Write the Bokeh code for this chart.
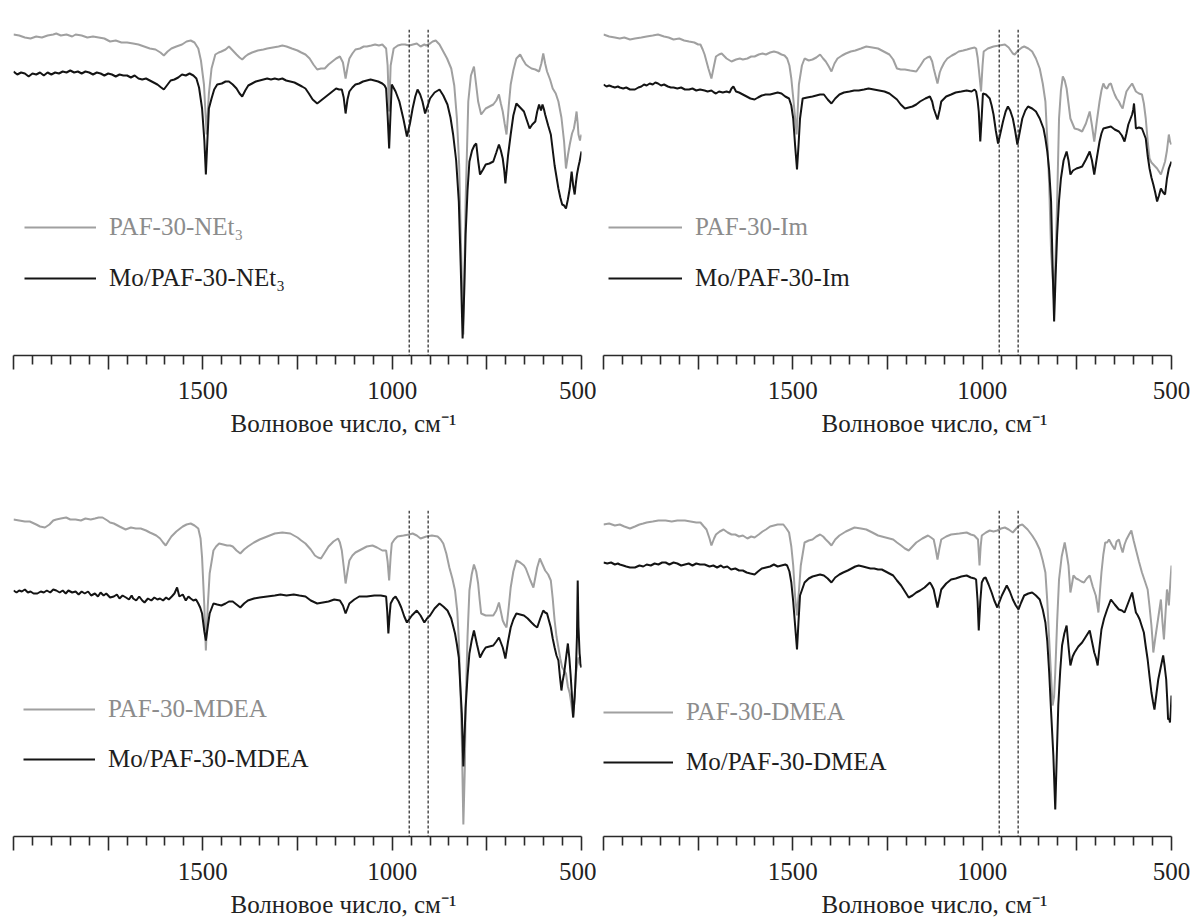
from bokeh.plotting import figure
from bokeh.models import Range1d, FixedTicker, Span, Legend, LegendItem, Title
from bokeh.layouts import gridplot
from bokeh.embed import file_html
from bokeh.resources import INLINE

FONT = "'Liberation Serif', 'Times New Roman', serif"
GRAY = "#a0a0a0"
BLACK = "#141414"

# ---- axis ticks ----
major_ticks = [500, 750, 1000, 1250, 1500, 1750, 2000]
minor_ticks = [550, 600, 650, 700, 800, 850, 900, 950, 1050, 1100, 1150, 1200,
               1300, 1350, 1400, 1450, 1550, 1600, 1650, 1700, 1800, 1850, 1900, 1950]
tick_labels = {500: "500", 750: "", 1000: "1000", 1250: "", 1500: "1500", 1750: "", 2000: ""}
marker_lines = [955, 905]
x_title = "Волновое число, см⁻¹"

# (wavenumber cm-1, transmittance a.u.) pairs
g1 = [(2000,321),(1985,320),(1970,318),(1955,317),(1940,319),(1925,318),(1910,320),(1895,321),(1887,322),(1875,320),(1860,321),(1845,319),(1836,321),(1820,320),(1805,318),(1790,319),(1775,318),(1760,317),(1745,314),(1730,315),(1715,313),(1700,313),(1684,312),(1670,311),(1655,309),(1640,307),(1625,306),(1612,303),(1603,300),(1593,304),(1583,307),(1570,309),(1555,311),(1543,314),(1532,315),(1522,313),(1512,307),(1505,295),(1497,271),(1490,221),(1484,262),(1477,287),(1467,301),(1458,303),(1451,304),(1440,306),(1431,309),(1421,305),(1411,301),(1403,298),(1396,296),(1388,299),(1381,301),(1370,303),(1355,305),(1340,306),(1330,307),(1315,308),(1300,309),(1290,310),(1279,309),(1265,307),(1250,305),(1240,303),(1229,301),(1218,297),(1208,291),(1198,286),(1188,287),(1178,287),(1168,291),(1158,294),(1148,297),(1138,299),(1130,293),(1123,277),(1117,290),(1113,297),(1105,302),(1097,306),(1085,307),(1075,309),(1067,309),(1055,310),(1045,311),(1035,310),(1026,311),(1016,307),(1012,290),(1008,244),(1004,290),(996,307),(985,310),(975,311),(966,311),(955,310),(945,311),(935,312),(925,309),(915,311),(910,310),(900,312),(893,314),(885,315),(875,311),(865,304),(855,297),(844,287),(836,270),(829,237),(823,190),(819,121),(812,21),(806,154),(799,254),(792,280),(784,289),(778,270),(773,254),(765,241),(759,244),(753,247),(743,249),(733,251),(725,255),(718,261),(713,252),(708,244),(703,232),(698,221),(692,250),(687,271),(680,285),(672,297),(662,301),(655,296),(647,291),(640,289),(632,287),(622,286),(612,284),(606,292),(601,302),(596,292),(591,284),(583,276),(576,267),(568,262),(561,254),(553,238),(546,214),(541,187),(536,200),(531,211),(525,222),(520,227),(516,236),(513,244),(510,232),(508,221),(504,215),(500,221)]
b1 = [(2000,284),(1990,281),(1980,283),(1970,282),(1960,279),(1950,282),(1940,281),(1930,283),(1920,280),(1910,283),(1900,281),(1890,283),(1880,282),(1870,284),(1860,283),(1850,285),(1840,283),(1830,284),(1820,282),(1810,284),(1800,283),(1790,281),(1780,283),(1770,282),(1760,280),(1750,282),(1740,281),(1730,279),(1720,281),(1710,280),(1700,280),(1690,278),(1680,280),(1670,277),(1660,276),(1650,277),(1640,275),(1630,273),(1620,271),(1610,268),(1603,266),(1595,270),(1585,275),(1575,276),(1565,278),(1555,281),(1545,280),(1535,282),(1525,280),(1517,277),(1510,268),(1502,247),(1496,215),(1492,181),(1488,215),(1484,247),(1477,257),(1470,266),(1462,271),(1450,272),(1440,274),(1431,274),(1421,271),(1411,267),(1403,262),(1396,259),(1388,265),(1380,270),(1370,272),(1360,274),(1350,275),(1340,276),(1330,277),(1320,276),(1310,277),(1300,276),(1290,277),(1280,275),(1269,274),(1258,273),(1248,271),(1238,269),(1229,267),(1220,262),(1210,256),(1198,252),(1188,255),(1178,258),(1168,261),(1158,264),(1148,267),(1140,266),(1133,266),(1128,258),(1123,242),(1118,256),(1113,264),(1105,268),(1097,271),(1087,272),(1077,274),(1067,275),(1057,276),(1047,275),(1037,274),(1026,272),(1020,270),(1016,267),(1012,240),(1008,207),(1004,245),(1001,271),(991,264),(981,254),(970,236),(961,219),(953,232),(946,247),(939,259),(933,266),(926,261),(920,254),(913,242),(906,250),(900,257),(888,263),(875,266),(865,260),(854,251),(846,238),(839,221),(831,195),(824,154),(819,90),(814,17),(810,60),(806,121),(801,165),(796,194),(789,205),(783,210),(778,212),(773,195),(768,181),(760,186),(753,191),(743,192),(733,194),(725,203),(718,211),(713,205),(708,197),(704,185),(701,172),(694,200),(687,221),(680,240),(672,252),(662,248),(652,244),(645,236),(637,227),(630,231),(622,234),(617,244),(612,251),(607,245),(603,251),(599,246),(596,241),(588,230),(581,221),(571,190),(561,167),(556,158),(551,151),(546,150),(541,147),(536,156),(531,167),(526,184),(522,170),(518,161),(515,172),(512,181),(508,189),(505,194),(500,204)]

g2 = [(2000,321),(1985,319),(1970,318),(1957,317),(1945,318),(1930,316),(1917,317),(1900,318),(1886,319),(1870,320),(1856,321),(1840,319),(1828,318),(1815,316),(1800,317),(1787,315),(1774,314),(1760,313),(1750,311),(1744,311),(1738,306),(1733,301),(1723,287),(1715,277),(1708,290),(1703,299),(1695,301),(1688,302),(1675,297),(1662,294),(1650,296),(1640,297),(1632,296),(1620,297),(1610,299),(1601,299),(1590,301),(1580,302),(1571,301),(1560,303),(1550,304),(1540,303),(1530,301),(1522,300),(1515,297),(1509,290),(1504,277),(1497,250),(1490,221),(1484,271),(1476,290),(1469,297),(1458,295),(1448,296),(1438,298),(1428,301),(1420,297),(1413,294),(1405,289),(1398,284),(1390,292),(1382,297),(1370,300),(1360,302),(1347,304),(1335,305),(1320,307),(1306,309),(1290,308),(1275,307),(1260,304),(1245,301),(1235,296),(1225,287),(1215,286),(1204,286),(1190,285),(1174,284),(1163,290),(1153,296),(1145,298),(1138,299),(1132,294),(1128,287),(1118,272),(1112,283),(1108,287),(1100,293),(1092,297),(1080,300),(1070,302),(1062,304),(1050,305),(1040,306),(1031,307),(1020,308),(1016,307),(1012,298),(1009,287),(1003,264),(999,290),(996,304),(985,307),(970,309),(955,310),(940,311),(930,308),(919,302),(914,301),(905,305),(895,308),(889,309),(878,307),(868,304),(858,297),(848,287),(840,272),(833,254),(828,215),(823,171),(818,104),(810,54),(806,100),(802,154),(797,237),(792,265),(787,279),(782,275),(777,267),(772,252),(767,237),(756,227),(746,226),(736,224),(726,232),(716,244),(710,230),(704,214),(697,235),(690,254),(685,265),(680,272),(675,268),(670,267),(665,271),(660,272),(655,266),(650,261),(645,257),(639,254),(634,250),(629,247),(624,256),(619,264),(612,268),(604,272),(599,268),(594,264),(586,262),(578,261),(573,252),(568,237),(563,215),(558,197),(553,193),(548,191),(543,189),(538,187),(533,184),(528,181),(522,188),(517,194),(512,205),(507,221),(504,214),(500,211)]
b2 = [(2000,271),(1992,269),(1985,270),(1978,269),(1970,268),(1962,269),(1957,268),(1948,267),(1940,268),(1930,266),(1917,266),(1908,268),(1900,269),(1893,271),(1886,270),(1878,272),(1870,271),(1863,273),(1856,272),(1848,270),(1840,271),(1830,269),(1822,268),(1815,268),(1805,267),(1795,268),(1785,266),(1774,266),(1765,267),(1755,265),(1745,266),(1733,265),(1725,264),(1715,265),(1708,263),(1703,262),(1695,264),(1685,263),(1675,264),(1667,263),(1662,267),(1657,269),(1650,264),(1642,263),(1632,261),(1622,259),(1612,257),(1601,256),(1592,258),(1582,260),(1572,261),(1560,261),(1550,262),(1540,263),(1530,262),(1520,259),(1510,257),(1504,250),(1499,237),(1494,210),(1489,186),(1485,210),(1481,237),(1474,257),(1462,258),(1448,259),(1438,260),(1428,261),(1418,261),(1408,256),(1398,252),(1388,257),(1377,261),(1365,263),(1350,264),(1338,265),(1326,265),(1312,266),(1300,267),(1286,266),(1272,265),(1258,264),(1245,262),(1235,259),(1225,256),(1215,251),(1204,247),(1194,248),(1184,249),(1174,251),(1164,254),(1150,257),(1138,259),(1132,254),(1128,247),(1118,236),(1112,246),(1108,254),(1095,259),(1082,261),(1070,263),(1055,264),(1041,265),(1028,264),(1020,266),(1016,264),(1012,255),(1009,244),(1005,214),(1001,240),(998,262),(990,261),(980,257),(975,250),(970,241),(964,225),(958,212),(952,222),(945,234),(938,244),(932,249),(926,245),(919,237),(913,225),(907,211),(900,225),(894,237),(886,245),(879,249),(868,247),(858,244),(848,237),(838,227),(833,217),(828,204),(823,185),(818,154),(814,90),(810,34),(806,80),(802,121),(797,155),(792,177),(785,195),(777,204),(772,195),(767,181),(760,185),(751,187),(743,188),(736,189),(726,196),(716,204),(710,195),(704,181),(697,198),(690,214),(685,222),(680,227),(670,228),(660,229),(650,226),(639,224),(631,220),(624,214),(619,222),(614,231),(609,236),(604,241),(601,246),(599,252),(596,238),(594,227),(586,228),(578,227),(573,222),(568,217),(563,200),(558,187),(553,178),(548,171),(543,163),(538,154),(533,160),(528,167),(522,163),(517,161),(512,177),(507,187),(504,190),(500,194)]

g3 = [(2000,317),(1985,316),(1970,315),(1957,315),(1940,312),(1930,310),(1917,309),(1905,312),(1895,316),(1887,317),(1875,318),(1861,319),(1850,317),(1836,317),(1822,316),(1810,318),(1796,317),(1785,318),(1775,319),(1765,319),(1752,316),(1745,314),(1735,313),(1720,310),(1704,307),(1690,309),(1677,308),(1664,308),(1650,306),(1640,304),(1634,303),(1623,301),(1613,298),(1605,294),(1598,291),(1590,296),(1583,300),(1570,305),(1560,308),(1553,310),(1543,312),(1532,313),(1522,311),(1512,308),(1506,298),(1502,279),(1496,230),(1492,186),(1487,230),(1482,263),(1472,286),(1465,290),(1457,293),(1446,292),(1436,291),(1428,291),(1421,290),(1411,286),(1401,283),(1391,287),(1381,290),(1365,294),(1350,297),(1330,300),(1310,303),(1290,304),(1269,303),(1250,299),(1240,296),(1229,293),(1215,287),(1204,281),(1196,279),(1188,278),(1178,284),(1168,290),(1155,295),(1143,298),(1138,294),(1133,286),(1128,270),(1123,253),(1118,265),(1113,276),(1105,281),(1097,284),(1082,287),(1067,290),(1052,291),(1040,289),(1026,286),(1016,286),(1012,275),(1008,256),(1004,280),(1001,293),(994,297),(986,300),(970,301),(955,302),(946,303),(935,301),(925,298),(910,300),(895,301),(880,300),(872,297),(865,293),(857,283),(849,269),(841,258),(834,246),(828,225),(824,196),(820,150),(816,96),(812,12),(808,70),(806,129),(801,200),(796,246),(790,262),(784,272),(778,265),(773,253),(769,237),(765,223),(759,222),(753,221),(743,221),(733,221),(725,226),(718,234),(713,225),(708,216),(703,212),(698,209),(692,230),(687,249),(680,265),(672,276),(662,274),(652,271),(647,268),(642,263),(635,256),(627,249),(622,259),(617,269),(610,278),(603,272),(596,266),(588,262),(581,256),(576,238),(571,216),(566,200),(561,189),(556,178),(551,169),(546,166),(541,163),(536,150),(531,143),(527,133),(522,119),(518,140),(515,163),(511,172),(508,179),(504,172),(500,169)]
b3 = [(2000,246),(1992,244),(1985,246),(1978,245),(1970,247),(1962,244),(1955,245),(1947,243),(1937,243),(1928,245),(1920,244),(1912,246),(1903,244),(1895,247),(1887,246),(1878,244),(1870,246),(1862,243),(1855,246),(1845,244),(1836,245),(1828,242),(1820,245),(1812,243),(1803,245),(1795,241),(1785,243),(1777,240),(1770,244),(1762,241),(1755,243),(1745,239),(1735,240),(1727,242),(1720,238),(1712,241),(1703,239),(1695,237),(1688,241),(1684,238),(1676,236),(1668,240),(1660,236),(1654,234),(1645,238),(1636,236),(1628,239),(1620,237),(1613,238),(1605,236),(1597,239),(1590,237),(1582,240),(1575,243),(1568,249),(1562,240),(1553,242),(1545,236),(1538,240),(1532,238),(1525,236),(1518,237),(1512,233),(1507,229),(1502,223),(1496,205),(1492,196),(1487,210),(1482,223),(1472,233),(1462,232),(1451,231),(1440,233),(1431,235),(1421,235),(1411,232),(1401,229),(1391,233),(1381,236),(1365,238),(1350,239),(1330,240),(1310,241),(1295,242),(1279,241),(1260,242),(1245,241),(1229,240),(1215,236),(1198,233),(1183,234),(1168,235),(1153,237),(1138,236),(1130,231),(1123,223),(1118,228),(1113,233),(1100,237),(1087,240),(1067,240),(1047,241),(1030,241),(1016,240),(1013,225),(1010,203),(1007,220),(1004,233),(997,238),(991,240),(983,235),(976,229),(968,220),(961,214),(948,221),(935,226),(925,221),(915,214),(908,218),(900,221),(888,228),(875,233),(865,230),(854,226),(844,218),(834,203),(829,192),(824,179),(820,150),(816,123),(812,70),(809,100),(806,129),(801,160),(796,183),(790,196),(784,206),(776,192),(768,179),(760,185),(753,189),(743,190),(733,191),(725,195),(718,199),(713,194),(708,189),(704,183),(701,178),(694,195),(687,209),(680,217),(672,223),(662,222),(652,221),(642,218),(632,214),(624,211),(617,209),(609,218),(601,226),(596,224),(591,223),(586,216),(581,209),(576,198),(571,189),(566,181),(561,176),(557,160),(553,146),(550,155),(546,163),(541,178),(536,193),(532,178),(529,163),(525,140),(522,119),(518,140),(515,163),(512,200),(510,256),(508,210),(505,183),(502,172),(500,169)]

g4 = [(2000,312),(1985,313),(1970,311),(1957,312),(1945,310),(1930,308),(1917,310),(1905,312),(1895,313),(1886,314),(1870,315),(1855,316),(1836,316),(1820,315),(1805,316),(1785,316),(1770,315),(1755,314),(1744,314),(1735,310),(1728,307),(1720,298),(1715,291),(1708,298),(1703,302),(1693,305),(1683,307),(1672,304),(1662,302),(1652,302),(1642,300),(1632,301),(1620,298),(1610,300),(1601,299),(1590,302),(1580,305),(1571,307),(1560,310),(1550,311),(1540,312),(1525,312),(1517,308),(1510,304),(1504,290),(1499,271),(1494,240),(1489,221),(1484,245),(1479,271),(1469,294),(1458,296),(1448,297),(1438,300),(1428,302),(1420,300),(1413,297),(1405,294),(1398,291),(1388,297),(1377,301),(1360,305),(1337,309),(1320,308),(1306,307),(1290,304),(1275,301),(1255,299),(1235,297),(1225,294),(1214,291),(1204,288),(1194,286),(1184,290),(1174,294),(1158,298),(1143,301),(1135,299),(1128,297),(1123,288),(1118,277),(1113,288),(1108,297),(1095,300),(1082,302),(1060,303),(1041,304),(1030,302),(1021,301),(1011,297),(1007,271),(1004,290),(1001,301),(990,304),(980,306),(970,305),(960,306),(950,308),(940,309),(930,307),(919,304),(910,308),(902,311),(894,312),(880,307),(868,301),(858,295),(848,287),(840,276),(833,264),(828,235),(823,197),(818,160),(814,131),(810,140),(807,164),(802,215),(797,257),(790,280),(782,294),(777,283),(772,271),(767,244),(763,252),(759,261),(752,258),(746,257),(738,255),(731,254),(724,258),(716,261),(708,250),(700,241),(696,232),(693,224),(689,245),(685,264),(680,282),(675,294),(670,294),(665,297),(658,292),(650,287),(645,295),(639,297),(634,290),(629,284),(624,292),(619,297),(612,302),(606,306),(600,296),(594,287),(586,275),(578,264),(570,255),(563,247),(558,230),(553,211),(550,196),(548,184),(543,198),(538,211),(533,224),(528,237),(524,215),(520,197),(516,222),(512,247),(509,240),(507,231),(503,255),(500,271)]
b4 = [(2000,274),(1990,273),(1980,274),(1970,272),(1962,273),(1957,272),(1948,271),(1940,270),(1930,269),(1917,269),(1905,271),(1895,270),(1886,272),(1875,271),(1865,273),(1855,272),(1845,274),(1836,274),(1826,272),(1815,274),(1805,273),(1795,271),(1785,272),(1775,273),(1765,271),(1755,273),(1745,272),(1733,272),(1720,270),(1710,271),(1700,269),(1690,271),(1683,269),(1673,270),(1663,267),(1652,268),(1642,266),(1632,266),(1622,264),(1612,263),(1601,262),(1592,265),(1582,268),(1571,269),(1560,270),(1550,272),(1540,270),(1530,271),(1520,272),(1515,271),(1509,265),(1504,254),(1499,235),(1494,211),(1489,187),(1485,215),(1481,241),(1469,254),(1458,258),(1448,260),(1438,261),(1428,262),(1418,261),(1408,258),(1398,254),(1388,259),(1377,262),(1367,264),(1355,266),(1345,268),(1335,270),(1326,271),(1315,270),(1305,269),(1295,268),(1285,268),(1275,267),(1265,267),(1255,265),(1245,263),(1235,261),(1225,256),(1214,251),(1204,245),(1194,239),(1184,241),(1174,244),(1164,246),(1152,249),(1138,254),(1133,251),(1128,247),(1118,229),(1113,238),(1108,247),(1095,253),(1082,257),(1070,258),(1055,260),(1041,261),(1030,259),(1020,258),(1016,257),(1012,235),(1009,206),(1005,235),(1001,254),(996,258),(991,259),(983,252),(975,244),(968,236),(960,229),(948,241),(935,251),(927,245),(919,237),(911,231),(904,227),(897,234),(889,241),(878,243),(868,244),(858,241),(848,237),(840,227),(833,214),(828,195),(823,164),(818,125),(812,81),(807,27),(803,80),(799,131),(794,165),(789,191),(783,203),(777,211),(772,190),(767,171),(761,180),(756,184),(746,190),(736,194),(726,200),(716,206),(710,195),(704,184),(699,178),(695,171),(690,190),(685,207),(678,218),(670,227),(665,232),(660,237),(650,232),(639,227),(631,226),(624,224),(619,229),(614,234),(609,239),(604,244),(599,234),(594,224),(589,221),(584,217),(579,211),(573,204),(568,190),(563,177),(558,160),(553,144),(549,135),(545,127),(540,142),(535,157),(528,170),(522,181),(518,170),(514,157),(511,135),(509,117),(506,118),(504,114),(502,125),(500,141)]

labels_g = ["PAF-30-NEt₃", "PAF-30-Im", "PAF-30-MDEA", "PAF-30-DMEA"]
labels_b = ["Mo/PAF-30-NEt₃", "Mo/PAF-30-Im", "Mo/PAF-30-MDEA", "Mo/PAF-30-DMEA"]


def make_panel(g, b, lab_g, lab_b, left, right, top, bottom,
               leg_x, leg_gy, leg_by, glyph_w, title_offset):
    p = figure(frame_width=568, frame_height=326,
               x_range=Range1d(2000, 500), y_range=Range1d(0, 326),
               output_backend="svg", toolbar_location=None, y_axis_location=None,
               min_border_left=left, min_border_right=right,
               min_border_top=top, min_border_bottom=bottom)
    p.xgrid.visible = False
    p.ygrid.visible = False
    p.outline_line_color = None
    p.background_fill_color = "white"
    p.border_fill_color = "white"

    ax = p.xaxis[0]
    ax.ticker = FixedTicker(ticks=major_ticks, minor_ticks=minor_ticks)
    ax.major_label_overrides = tick_labels
    ax.axis_line_color = "#2a2a2a"
    ax.axis_line_width = 1.6
    ax.major_tick_line_color = "#2a2a2a"
    ax.major_tick_line_width = 1.6
    ax.minor_tick_line_color = "#2a2a2a"
    ax.minor_tick_line_width = 1.6
    ax.major_tick_in = 0
    ax.major_tick_out = 14
    ax.minor_tick_in = 0
    ax.minor_tick_out = 9
    ax.major_label_standoff = 12
    ax.major_label_text_font = FONT
    ax.major_label_text_font_size = "25px"
    ax.major_label_text_color = "#222222"

    p.add_layout(Title(text=x_title, align="left", offset=title_offset,
                       text_font=FONT, text_font_size="25px", text_font_style="normal",
                       text_color="#222222", standoff=13), "below")

    for loc in marker_lines:
        p.add_layout(Span(location=loc, dimension="height", line_color="#222222",
                          line_width=1.2, line_dash="3 2"))

    rg = p.line([w for w, _ in g], [t for _, t in g], line_color=GRAY, line_width=2.0)
    rb = p.line([w for w, _ in b], [t for _, t in b], line_color=BLACK, line_width=2.0)

    for r, lab, ly, col in ((rg, lab_g, leg_gy, "#8c8c8c"), (rb, lab_b, leg_by, "#1e1e1e")):
        lg = Legend(items=[LegendItem(label=lab, renderers=[r])], location=(leg_x, ly),
                    glyph_width=glyph_w, glyph_height=20, label_height=20, label_standoff=13,
                    padding=0, margin=0, spacing=0, border_line_alpha=0,
                    background_fill_alpha=0, label_text_font=FONT,
                    label_text_font_size="25px", label_text_color=col)
        p.add_layout(lg, "center")
    return p


p1 = make_panel(g1, b1, labels_g[0], labels_b[0], 13, 15, 29, 106, 11, 114, 63, 72, 217)
p2 = make_panel(g2, b2, labels_g[1], labels_b[1], 7, 21, 29, 106, 5, 114, 63, 74, 218)
p3 = make_panel(g3, b3, labels_g[2], labels_b[2], 13, 15, 49, 87, 10, 113, 63, 72, 217)
p4 = make_panel(g4, b4, labels_g[3], labels_b[3], 7, 21, 49, 87, 0, 110, 60, 70, 218)

grid = gridplot([[p1, p2], [p3, p4]], toolbar_location=None)

open("out.html", "w").write(file_html(grid, INLINE))
